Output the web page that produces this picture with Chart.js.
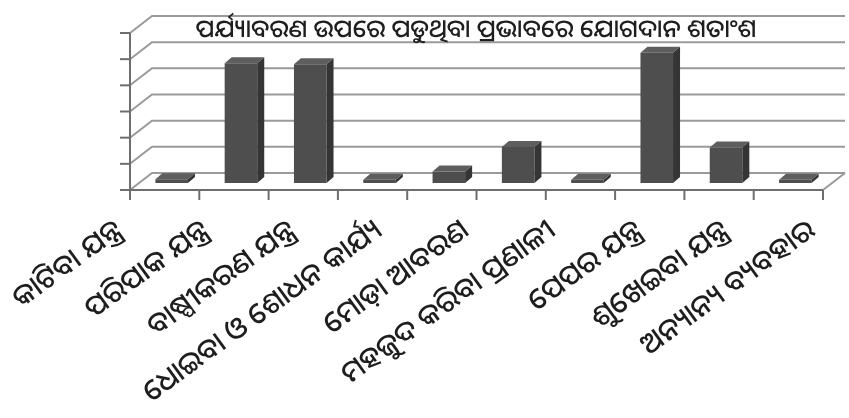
<!DOCTYPE html>
<html lang="or">
<head>
    <meta charset="UTF-8">
    <title>ପର୍ଯ୍ୟାବରଣ ଉପରେ ପଡୁଥିବା ପ୍ରଭାବରେ ଯୋଗଦାନ ଶତାଂଶ</title>
    <style>
        body { margin: 0; background: #fff; }
        #wrap { width: 849px; height: 418px; }
    </style>
</head>
<body>
    <div id="wrap">
        <canvas id="chart" width="849" height="418"></canvas>
    </div>

    <script src="https://cdn.jsdelivr.net/npm/chart.js"></script>
    <script>
        // data
        const title = 'ପର୍ଯ୍ୟାବରଣ ଉପରେ ପଡୁଥିବା ପ୍ରଭାବରେ ଯୋଗଦାନ ଶତାଂଶ';
        const categories = [
            'କାଟିବା ଯନ୍ତ୍ର',
            'ପରିପାକ ଯନ୍ତ୍ର',
            'ବାଷ୍ପୀକରଣ ଯନ୍ତ୍ର',
            'ଧୋଇବା ଓ ଶୋଧନ କାର୍ଯ୍ୟ',
            'ମୋଡ଼ା ଆବରଣ',
            'ମହଜୁଦ କରିବା ପ୍ରଣାଳୀ',
            'ପେପର ଯନ୍ତ୍ର',
            'ଶୁଖେଇବା ଯନ୍ତ୍ର',
            'ଅନ୍ୟାନ୍ୟ ବ୍ୟବହାର'
        ];
        const values = [0.7, 22.9, 22.7, 0.6, 2.2, 6.9, 0.6, 24.9, 6.8, 0.6];
        const yMax = 30;
        const yStep = 5;

        const odiaFont = '"Noto Sans Oriya", "Lohit Odia", "DejaVu Sans", sans-serif';

        // fake 3d: offsets of the front and back planes from the bar plane
        const front = { dx: -7, dy: 7 };
        const back = { dx: 15, dy: -10 };
        const depth = { dx: 7, dy: -6 };

        const frame3d = {
            id: 'frame3d',
            beforeDatasetsDraw(chart) {
                const ctx = chart.ctx;
                const y = chart.scales.y;
                const a = chart.chartArea;
                ctx.save();

                // back wall + left wall lines
                ctx.strokeStyle = '#9a9a9a';
                ctx.lineWidth = 2;
                for (let v = 0; v <= yMax; v += yStep) {
                    const py = y.getPixelForValue(v);
                    ctx.beginPath();
                    ctx.moveTo(a.left + front.dx, py + front.dy);
                    ctx.lineTo(a.left + back.dx, py + back.dy);
                    ctx.lineTo(a.right + back.dx, py + back.dy);
                    ctx.stroke();
                }
                // right edge of the floor
                const p0 = y.getPixelForValue(0);
                ctx.beginPath();
                ctx.moveTo(a.right + front.dx, p0 + front.dy);
                ctx.lineTo(a.right + back.dx, p0 + back.dy);
                ctx.stroke();

                // front axes
                ctx.strokeStyle = '#6e6e6e';
                ctx.beginPath();
                ctx.moveTo(a.left + front.dx, y.getPixelForValue(yMax) + front.dy);
                ctx.lineTo(a.left + front.dx, p0 + front.dy);
                ctx.lineTo(a.right + front.dx, p0 + front.dy);
                ctx.stroke();

                // tick marks
                for (let v = 0; v <= yMax; v += yStep) {
                    const py = y.getPixelForValue(v) + front.dy;
                    ctx.beginPath();
                    ctx.moveTo(a.left + front.dx - 10, py);
                    ctx.lineTo(a.left + front.dx, py);
                    ctx.stroke();
                }
                const n = values.length;
                const step = (a.right - a.left) / n;
                for (let i = 0; i <= n; i++) {
                    const px = a.left + i * step + front.dx;
                    ctx.beginPath();
                    ctx.moveTo(px, p0 + front.dy);
                    ctx.lineTo(px, p0 + front.dy + 10);
                    ctx.stroke();
                }
                ctx.restore();
            },
            afterDatasetsDraw(chart) {
                const ctx = chart.ctx;
                const meta = chart.getDatasetMeta(0);
                ctx.save();
                meta.data.forEach(bar => {
                    const p = bar.getProps(['x', 'y', 'base', 'width'], true);
                    const l = p.x - p.width / 2;
                    const r = p.x + p.width / 2;
                    // top face
                    ctx.fillStyle = '#5e5e5e';
                    ctx.beginPath();
                    ctx.moveTo(l, p.y);
                    ctx.lineTo(l + depth.dx, p.y + depth.dy);
                    ctx.lineTo(r + depth.dx, p.y + depth.dy);
                    ctx.lineTo(r, p.y);
                    ctx.closePath();
                    ctx.fill();
                    // side face
                    ctx.fillStyle = '#353535';
                    ctx.beginPath();
                    ctx.moveTo(r, p.y);
                    ctx.lineTo(r + depth.dx, p.y + depth.dy);
                    ctx.lineTo(r + depth.dx, p.base + depth.dy);
                    ctx.lineTo(r, p.base);
                    ctx.closePath();
                    ctx.fill();
                });
                ctx.restore();
            },
            afterDraw(chart) {
                const ctx = chart.ctx;
                ctx.save();
                ctx.fillStyle = '#1e1e1e';
                ctx.font = '500 25px ' + odiaFont;
                ctx.textAlign = 'center';
                ctx.textBaseline = 'middle';
                ctx.fillText(title, 476, 30);
                ctx.restore();
            }
        };

        const chart = new Chart(document.getElementById('chart'), {
            type: 'bar',
            data: {
                labels: values.map((v, i) => String(i + 1)),
                datasets: [{
                    data: values,
                    backgroundColor: '#4e4e4e',
                    borderWidth: 0,
                    categoryPercentage: 1,
                    barPercentage: 0.47
                }]
            },
            options: {
                responsive: false,
                animation: false,
                layout: { padding: { left: 137, right: 19, top: 26, bottom: 0 } },
                plugins: {
                    legend: { display: false },
                    title: { display: false },
                    tooltip: { enabled: false }
                },
                scales: {
                    y: {
                        display: false,
                        min: 0,
                        max: yMax,
                        ticks: { stepSize: yStep }
                    },
                    x: {
                        display: false
                    },
                    x2: {
                        type: 'category',
                        labels: categories,
                        position: 'bottom',
                        offset: false,
                        grid: { display: false },
                        border: { display: false },
                        ticks: {
                            autoSkip: false,
                            minRotation: 36,
                            maxRotation: 36,
                            padding: 22,
                            labelOffset: -18,
                            color: '#1e1e1e',
                            font: { family: odiaFont, size: 29, weight: '500' }
                        },
                        // fixed height, and let the labels hang outside without squeezing the plot
                        afterFit: s => {
                            s.height = 235;
                            s.paddingLeft = 0;
                            s.paddingRight = 0;
                        }
                    }
                }
            },
            plugins: [frame3d]
        });
    </script>
</body>
</html>
